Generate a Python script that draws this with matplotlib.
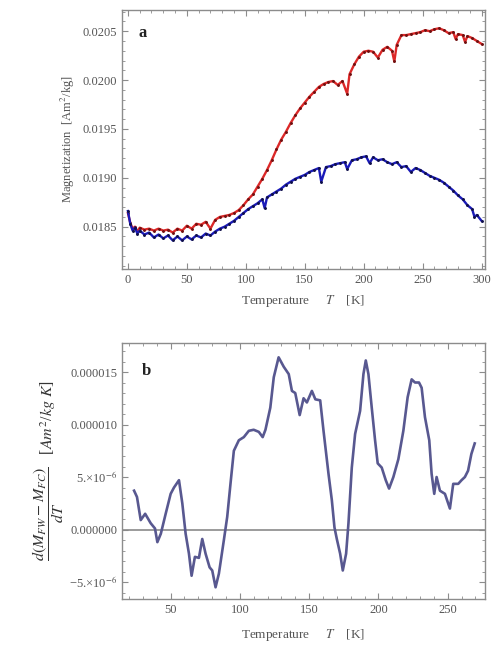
import matplotlib
matplotlib.use("Agg")
import matplotlib.pyplot as plt
import numpy as np
from matplotlib.ticker import MultipleLocator

plt.rcParams["font.family"] = ["Liberation Serif", "DejaVu Serif"]
plt.rcParams["mathtext.fontset"] = "stix"

# panel a: magnetization, values in units of 1e-4 Am^2/kg
t_red = [0, 2, 4, 6, 8, 10, 14, 18, 22, 26, 30, 34, 38, 42, 46, 50, 54, 58, 62, 66,
         70, 74, 78, 82, 86, 90, 94, 98, 102, 106, 110, 114, 118, 122, 126, 130, 134,
         138, 142, 146, 150, 154, 158, 162, 166, 170, 174, 178, 182, 186, 188, 192,
         196, 200, 204, 208, 212, 216, 220, 224, 226, 228, 232, 236, 240, 244, 248,
         252, 256, 260, 264, 268, 272, 276, 278, 280, 284, 286, 288, 292, 296, 300]
m_red = [186.4, 185.4, 184.8, 185.0, 184.5, 184.9, 184.7, 184.8, 184.6, 184.8, 184.6,
         184.7, 184.4, 184.8, 184.6, 185.1, 184.8, 185.3, 185.2, 185.5, 184.8, 185.7,
         186.0, 186.1, 186.2, 186.4, 186.7, 187.2, 187.8, 188.3, 189.1, 189.9, 190.8,
         191.8, 192.9, 193.9, 194.7, 195.6, 196.4, 197.1, 197.7, 198.3, 198.8, 199.3,
         199.6, 199.8, 199.9, 199.5, 199.9, 198.6, 200.6, 201.6, 202.4, 202.9, 203.0,
         202.9, 202.3, 203.1, 203.4, 203.0, 201.9, 203.6, 204.6, 204.6, 204.7, 204.8,
         204.9, 205.1, 205.0, 205.2, 205.3, 205.1, 204.8, 204.9, 204.2, 204.7, 204.6,
         203.9, 204.5, 204.3, 204.0, 203.7]

t_blue = [0, 2, 4, 6, 8, 10, 14, 18, 22, 26, 30, 34, 38, 42, 46, 50, 54, 58, 62, 66,
          70, 74, 78, 82, 86, 90, 94, 98, 102, 106, 110, 114, 116, 118, 122, 126, 130,
          134, 138, 142, 146, 150, 154, 158, 162, 164, 168, 172, 176, 180, 184, 186,
          190, 194, 198, 202, 205, 208, 212, 216, 220, 224, 228, 232, 236, 240, 244,
          248, 252, 256, 260, 264, 268, 272, 276, 280, 284, 288, 292, 294, 296, 300]
m_blue = [186.6, 185.3, 184.6, 184.9, 184.3, 184.6, 184.2, 184.4, 183.9, 184.2, 183.8,
          184.1, 183.6, 184.0, 183.6, 184.0, 183.7, 184.1, 183.9, 184.3, 184.1, 184.5,
          184.8, 185.0, 185.3, 185.6, 186.0, 186.4, 186.8, 187.1, 187.4, 187.8, 186.9,
          188.0, 188.3, 188.6, 188.9, 189.3, 189.6, 189.9, 190.1, 190.3, 190.6, 190.8,
          191.0, 189.6, 191.1, 191.2, 191.4, 191.5, 191.6, 190.9, 191.8, 191.9, 192.1,
          192.2, 191.5, 192.1, 191.8, 191.9, 191.6, 191.4, 191.6, 191.1, 191.2, 190.6,
          191.0, 190.8, 190.5, 190.2, 190.0, 189.8, 189.5, 189.1, 188.7, 188.2, 187.8,
          187.2, 186.8, 186.0, 186.2, 185.6]

# panel b: derivative of difference, values in units of 1e-6
t_diff = [23.7, 25.8, 28.5, 31.7, 35.7, 38.8, 40.5, 43.0, 46.5, 50.1, 52.5, 56.1, 58.5,
          60.9, 63.3, 65.2, 67.6, 70.5, 72.9, 75.3, 78.2, 80.1, 82.5, 84.9, 88.5, 90.9,
          93.3, 95.7, 99.3, 102.9, 106.5, 110.0, 113.7, 116.5, 118.5, 122.0, 124.5,
          128.0, 131.7, 135.3, 137.6, 140.0, 143.2, 146.0, 148.4, 152.0, 154.5, 158.0,
          160.4, 164.0, 166.4, 168.3, 170.0, 172.4, 174.3, 176.7, 178.4, 180.8, 183.2,
          186.8, 189.2, 190.9, 192.8, 195.2, 197.6, 199.5, 202.4, 205.3, 207.7, 210.8,
          214.4, 218.0, 221.1, 224.0, 226.4, 229.3, 231.2, 233.6, 236.7, 238.4, 240.3,
          242.0, 244.4, 248.0, 251.6, 254.0, 257.6, 260.0, 262.4, 264.7, 267.1, 269.5]
d_diff = [3.7, 3.1, 0.9, 1.5, 0.6, 0.1, -1.2, -0.4, 1.5, 3.4, 4.0, 4.7, 2.5, -0.4,
          -2.3, -4.4, -2.6, -2.7, -0.9, -2.3, -3.6, -3.9, -5.5, -4.2, -1.0, 1.2, 4.4,
          7.5, 8.5, 8.8, 9.4, 9.5, 9.3, 8.8, 9.5, 11.6, 14.5, 16.4, 15.5, 14.8, 13.2,
          13.0, 10.9, 12.5, 12.1, 13.2, 12.4, 12.3, 9.4, 5.3, 2.8, 0.2, -0.9, -2.3,
          -3.9, -2.3, 0.6, 5.9, 9.1, 11.3, 14.8, 16.1, 14.8, 11.6, 8.5, 6.3, 5.9, 4.7,
          3.9, 5.0, 6.7, 9.4, 12.6, 14.3, 14.0, 14.0, 13.5, 10.7, 8.5, 5.3, 3.4, 5.0,
          3.7, 3.4, 2.0, 4.35, 4.35, 4.7, 5.0, 5.6, 7.2, 8.2]

a_yticks = [0.0185, 0.0190, 0.0195, 0.0200, 0.0205]
a_ytick_labels = ["0.0185", "0.0190", "0.0195", "0.0200", "0.0205"]
b_yticks = [-5e-6, 0.0, 5e-6, 1e-5, 1.5e-5]
b_ytick_labels = ["\u22125.\u00d710$^{-6}$", "0.000000", "5.\u00d710$^{-6}$",
                  "0.000010", "0.000015"]

frame_color = "#8c8c8c"
tick_color = "#555555"


def style_frame(ax):
    for spine in ax.spines.values():
        spine.set_color(frame_color)
        spine.set_linewidth(1.0)
    ax.tick_params(which="both", direction="in", top=True, right=True,
                   color=frame_color, labelcolor=tick_color, labelsize=9)
    ax.tick_params(which="major", length=4, width=0.8)
    ax.tick_params(which="minor", length=2, width=0.6)


fig = plt.figure(figsize=(4.94, 6.46), dpi=100)

ax_a = fig.add_axes([0.247, 0.584, 0.735, 0.401])
ax_a.plot(t_red, np.array(m_red) * 1e-4, color="#dc2828", lw=1.7,
          marker=".", ms=2.2, mfc="#701010", mec="#701010")
ax_a.plot(t_blue, np.array(m_blue) * 1e-4, color="#1a1ab8", lw=1.7,
          marker=".", ms=2.2, mfc="#10104a", mec="#10104a")
ax_a.set_xlim(-5, 303)
ax_a.set_ylim(0.01807, 0.02072)
ax_a.set_xticks(range(0, 301, 50))
ax_a.xaxis.set_minor_locator(MultipleLocator(10))
ax_a.set_yticks(a_yticks)
ax_a.set_yticklabels(a_ytick_labels)
ax_a.yaxis.set_minor_locator(MultipleLocator(0.0001))
style_frame(ax_a)
ax_a.set_xlabel("Temperature     $T$    [K]", fontsize=9.5, color=tick_color, labelpad=5)
ax_a.set_ylabel("Magnetization  [Am$^2$/kg]", fontsize=9, color=tick_color, labelpad=4)
ax_a.text(0.045, 0.91, "a", transform=ax_a.transAxes, fontsize=12,
          fontweight="bold", color="#222222", va="center")

ax_b = fig.add_axes([0.247, 0.073, 0.735, 0.396])
ax_b.axhline(0, color="#8a8a8a", lw=1.2)
ax_b.plot(t_diff, np.array(d_diff) * 1e-6, color="#585890", lw=1.9)
ax_b.set_xlim(15, 277)
ax_b.set_ylim(-6.6e-6, 1.776e-5)
ax_b.set_xticks(range(50, 251, 50))
ax_b.xaxis.set_minor_locator(MultipleLocator(10))
ax_b.set_yticks(b_yticks)
ax_b.set_yticklabels(b_ytick_labels)
ax_b.yaxis.set_minor_locator(MultipleLocator(1e-6))
style_frame(ax_b)
ax_b.set_xlabel("Temperature     $T$    [K]", fontsize=9.5, color=tick_color, labelpad=8)
ax_b.set_ylabel(r"$\dfrac{d(M_{FW}-M_{FC})}{dT}$   [$Am^2$/$kg$ $K$]", fontsize=11.5,
                color="#333333", labelpad=2)
ax_b.text(0.055, 0.89, "b", transform=ax_b.transAxes, fontsize=12,
          fontweight="bold", color="#222222", va="center")

fig.savefig("out.png", dpi=100)
